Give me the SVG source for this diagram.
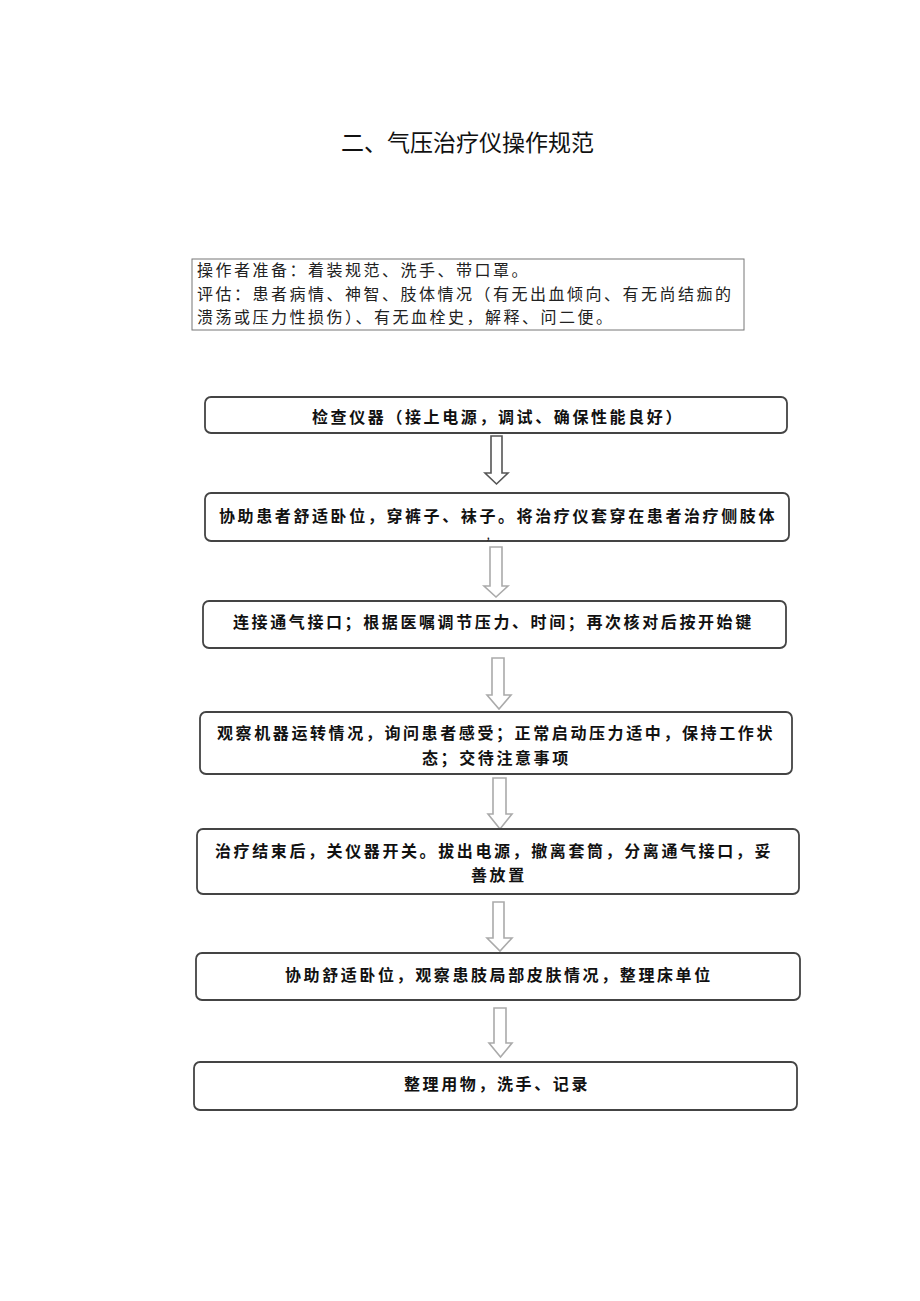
<svg xmlns="http://www.w3.org/2000/svg" width="920" height="1301" viewBox="0 0 920 1301">
<style>
.bg{fill:#fff}
.box{fill:#fff;stroke:#444;stroke-width:1.8}
.info{fill:#fff;stroke:#777;stroke-width:1}
.t{font-family:"Noto Sans CJK SC","Liberation Sans",sans-serif;font-size:16px;font-weight:bold;fill:#111;letter-spacing:2.6px}
.r{font-family:"Noto Sans CJK SC","Liberation Sans",sans-serif;font-size:16px;fill:#222;letter-spacing:2.5px}
.title{font-family:"Noto Sans CJK SC","Liberation Sans",sans-serif;font-size:23px;fill:#111}
.a1{fill:#fff;stroke:#555;stroke-width:1.6}
.a{fill:#fff;stroke:#aaa;stroke-width:1.6}
</style>
<rect class="bg" x="0" y="0" width="920" height="1301"/>
<text class="title" x="341" y="151">二、气压治疗仪操作规范</text>

<g id="info">
<rect class="info" x="192" y="259" width="552" height="71"/>
<text class="r" x="197" y="276">操作者准备：着装规范、洗手、带口罩。</text>
<text class="r" x="197" y="300">评估：患者病情、神智、肢体情况（有无出血倾向、有无尚结痂的</text>
<text class="r" x="197" y="323">溃荡或压力性损伤）、有无血栓史，解释、问二便。</text>
</g>

<g id="connectors">
<polygon class="a1" points="491,436 502,436 502,473 508,473 496.5,484 485,473 491,473"/>
<polygon class="a" points="490,547 502,547 502,586 508,586 496,597 484,586 490,586"/>
<polygon class="a" points="492,658 504,658 504,695 511,695 499,709 487,695 492,695"/>
<polygon class="a" points="493,778 506,778 506,814 512,814 500,829 488,814 493,814"/>
<polygon class="a" points="493,902 504,902 504,938 512,938 500,951 487,938 493,938"/>
<polygon class="a" points="494,1008 506,1008 506,1043 512,1043 500.5,1057 489,1043 494,1043"/>
</g>

<g id="n1">
<rect class="box" x="205" y="397" width="582" height="36" rx="6"/>
<text class="t" x="312" y="423">检查仪器（接上电源，调试、确保性能良好）</text>
</g>
<g id="n2">
<rect class="box" x="205" y="493" width="584" height="48" rx="6"/>
<text class="t" x="219" y="522">协助患者舒适卧位，穿裤子、袜子。将治疗仪套穿在患者治疗侧肢体</text>
<text class="t" x="486" y="539" style="font-size:8px">，</text>
</g>
<g id="n3">
<rect class="box" x="203" y="601" width="583" height="47" rx="6"/>
<text class="t" x="233" y="628">连接通气接口；根据医嘱调节压力、时间；再次核对后按开始键</text>
</g>
<g id="n4">
<rect class="box" x="200" y="712" width="592" height="62" rx="6"/>
<text class="t" x="217" y="739">观察机器运转情况，询问患者感受；正常启动压力适中，保持工作状</text>
<text class="t" x="422" y="764">态；交待注意事项</text>
</g>
<g id="n5">
<rect class="box" x="197" y="829" width="602" height="65" rx="6"/>
<text class="t" x="215" y="857">治疗结束后，关仪器开关。拔出电源，撤离套筒，分离通气接口，妥</text>
<text class="t" x="471" y="881">善放置</text>
</g>
<g id="n6">
<rect class="box" x="196" y="953" width="604" height="47" rx="6"/>
<text class="t" x="285" y="981">协助舒适卧位，观察患肢局部皮肤情况，整理床单位</text>
</g>
<g id="n7">
<rect class="box" x="194" y="1062" width="603" height="48" rx="6"/>
<text class="t" x="404" y="1090">整理用物，洗手、记录</text>
</g>
</svg>
